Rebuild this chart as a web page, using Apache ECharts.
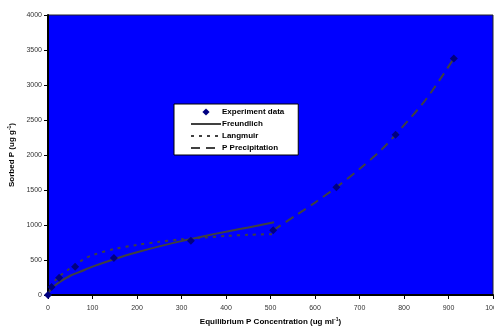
<!DOCTYPE html>
<html><head><meta charset="utf-8">
<script src="https://cdn.jsdelivr.net/npm/echarts@6/dist/echarts.min.js"></script>
<style>html,body{margin:0;padding:0;background:#fff}#c{width:494px;height:329px}</style>
</head><body><div id="c"></div>
<script>
// Experiment data [P concentration, sorbed P]
const experimentX = [0, 8, 25, 61, 148, 321, 506, 648, 781, 912];
const experimentY = [0, 114, 247, 404, 529, 776, 924, 1539, 2290, 3380];
// Freundlich fitted curve
const freundlichX = [0, 3, 10, 25, 50, 75, 100, 150, 200, 250, 300, 350, 400, 450, 508];
const freundlichY = [0, 50, 106, 181, 275, 340, 405, 515, 610, 695, 770, 840, 905, 965, 1040];
// Langmuir fitted curve
const langmuirX = [0, 5, 15, 25, 45, 60, 80, 100, 150, 200, 250, 300, 350, 400, 450, 506];
const langmuirY = [0, 110, 200, 265, 360, 430, 510, 570, 660, 715, 760, 795, 820, 843, 860, 870];
// P precipitation curve
const precipX = [506, 560, 600, 648, 700, 750, 781, 850, 912];
const precipY = [924, 1150, 1320, 1539, 1800, 2080, 2290, 2800, 3380];
const xTicks = {min: 0, max: 1000, interval: 100};
const yTicks = {min: 0, max: 4000, interval: 500};

const zip = (a, b) => a.map((v, i) => [v, b[i]]);
const chart = echarts.init(document.getElementById('c'), null, {renderer: 'canvas'});
const lineCol = '#404040';
const font = 'Arial, "Liberation Sans", sans-serif';
const nameRich = {
  a: {fontSize: 8, fontWeight: 'bold', color: '#000', fontFamily: font},
  s: {fontSize: 5, fontWeight: 'bold', color: '#000', verticalAlign: 'top', padding: [0, 0, 4, 0], fontFamily: font}
};
chart.setOption({
  animation: false,
  textStyle: {fontFamily: font},
  grid: {left: 48, top: 15, right: 1, bottom: 34, containLabel: false, outerBoundsMode: 'none', show: true, backgroundColor: '#0000FF', borderColor: '#222', borderWidth: 1},
  legend: {
    orient: 'vertical', left: 174, top: 104,
    backgroundColor: '#fff', borderColor: '#000', borderWidth: 1,
    padding: [4, 14, 3, 16], itemGap: 4, itemWidth: 30, itemHeight: 9,
    textStyle: {fontSize: 8, fontWeight: 'bold', color: '#000', fontFamily: font, padding: [0, 0, 0, -4]},
    data: [
      {name: 'Experiment data'},
      {name: 'Freundlich', itemStyle: {opacity: 0}},
      {name: 'Langmuir', itemStyle: {opacity: 0}},
      {name: 'P Precipitation', itemStyle: {opacity: 0}}
    ]
  },
  xAxis: {
    type: 'value', min: xTicks.min, max: xTicks.max, interval: xTicks.interval,
    name: '{a|Equilibrium P Concentration (ug ml}{s|-1}{a|)}', nameLocation: 'middle', nameGap: 18,
    nameTextStyle: {rich: nameRich},
    axisLine: {lineStyle: {color: '#000', width: 2}},
    axisTick: {show: true, length: 4, lineStyle: {color: '#000'}},
    axisLabel: {fontSize: 7, color: '#333', margin: 10, formatter: v => String(v)},
    splitLine: {show: false}
  },
  yAxis: {
    type: 'value', min: yTicks.min, max: yTicks.max, interval: yTicks.interval,
    name: '{a|Sorbed P (ug g}{s|-1}{a|)}', nameLocation: 'middle', nameGap: 27, nameRotate: 90,
    nameTextStyle: {rich: nameRich},
    axisLine: {show: true, lineStyle: {color: '#000', width: 2}},
    axisTick: {show: true, length: 4, lineStyle: {color: '#000'}},
    axisLabel: {fontSize: 7, color: '#333', margin: 6, formatter: v => String(v)},
    splitLine: {show: false}
  },
  series: [
    {name: 'Experiment data', type: 'line', data: zip(experimentX, experimentY), symbol: 'diamond', symbolSize: 8, showSymbol: true, lineStyle: {opacity: 0, width: 0}, itemStyle: {color: '#000080'}, z: 5},
    {name: 'Freundlich', type: 'line', data: zip(freundlichX, freundlichY), smooth: 0.3, symbol: 'none', lineStyle: {color: lineCol, width: 2, type: 'solid'}, itemStyle: {color: lineCol}, z: 3},
    {name: 'Langmuir', type: 'line', data: zip(langmuirX, langmuirY), smooth: 0.3, symbol: 'none', lineStyle: {color: lineCol, width: 2, type: [3, 5]}, itemStyle: {color: lineCol}, z: 3},
    {name: 'P Precipitation', type: 'line', data: zip(precipX, precipY), smooth: 0.3, symbol: 'none', lineStyle: {color: lineCol, width: 2, type: [9, 6]}, itemStyle: {color: lineCol}, z: 3}
  ]
});
</script></body></html>
